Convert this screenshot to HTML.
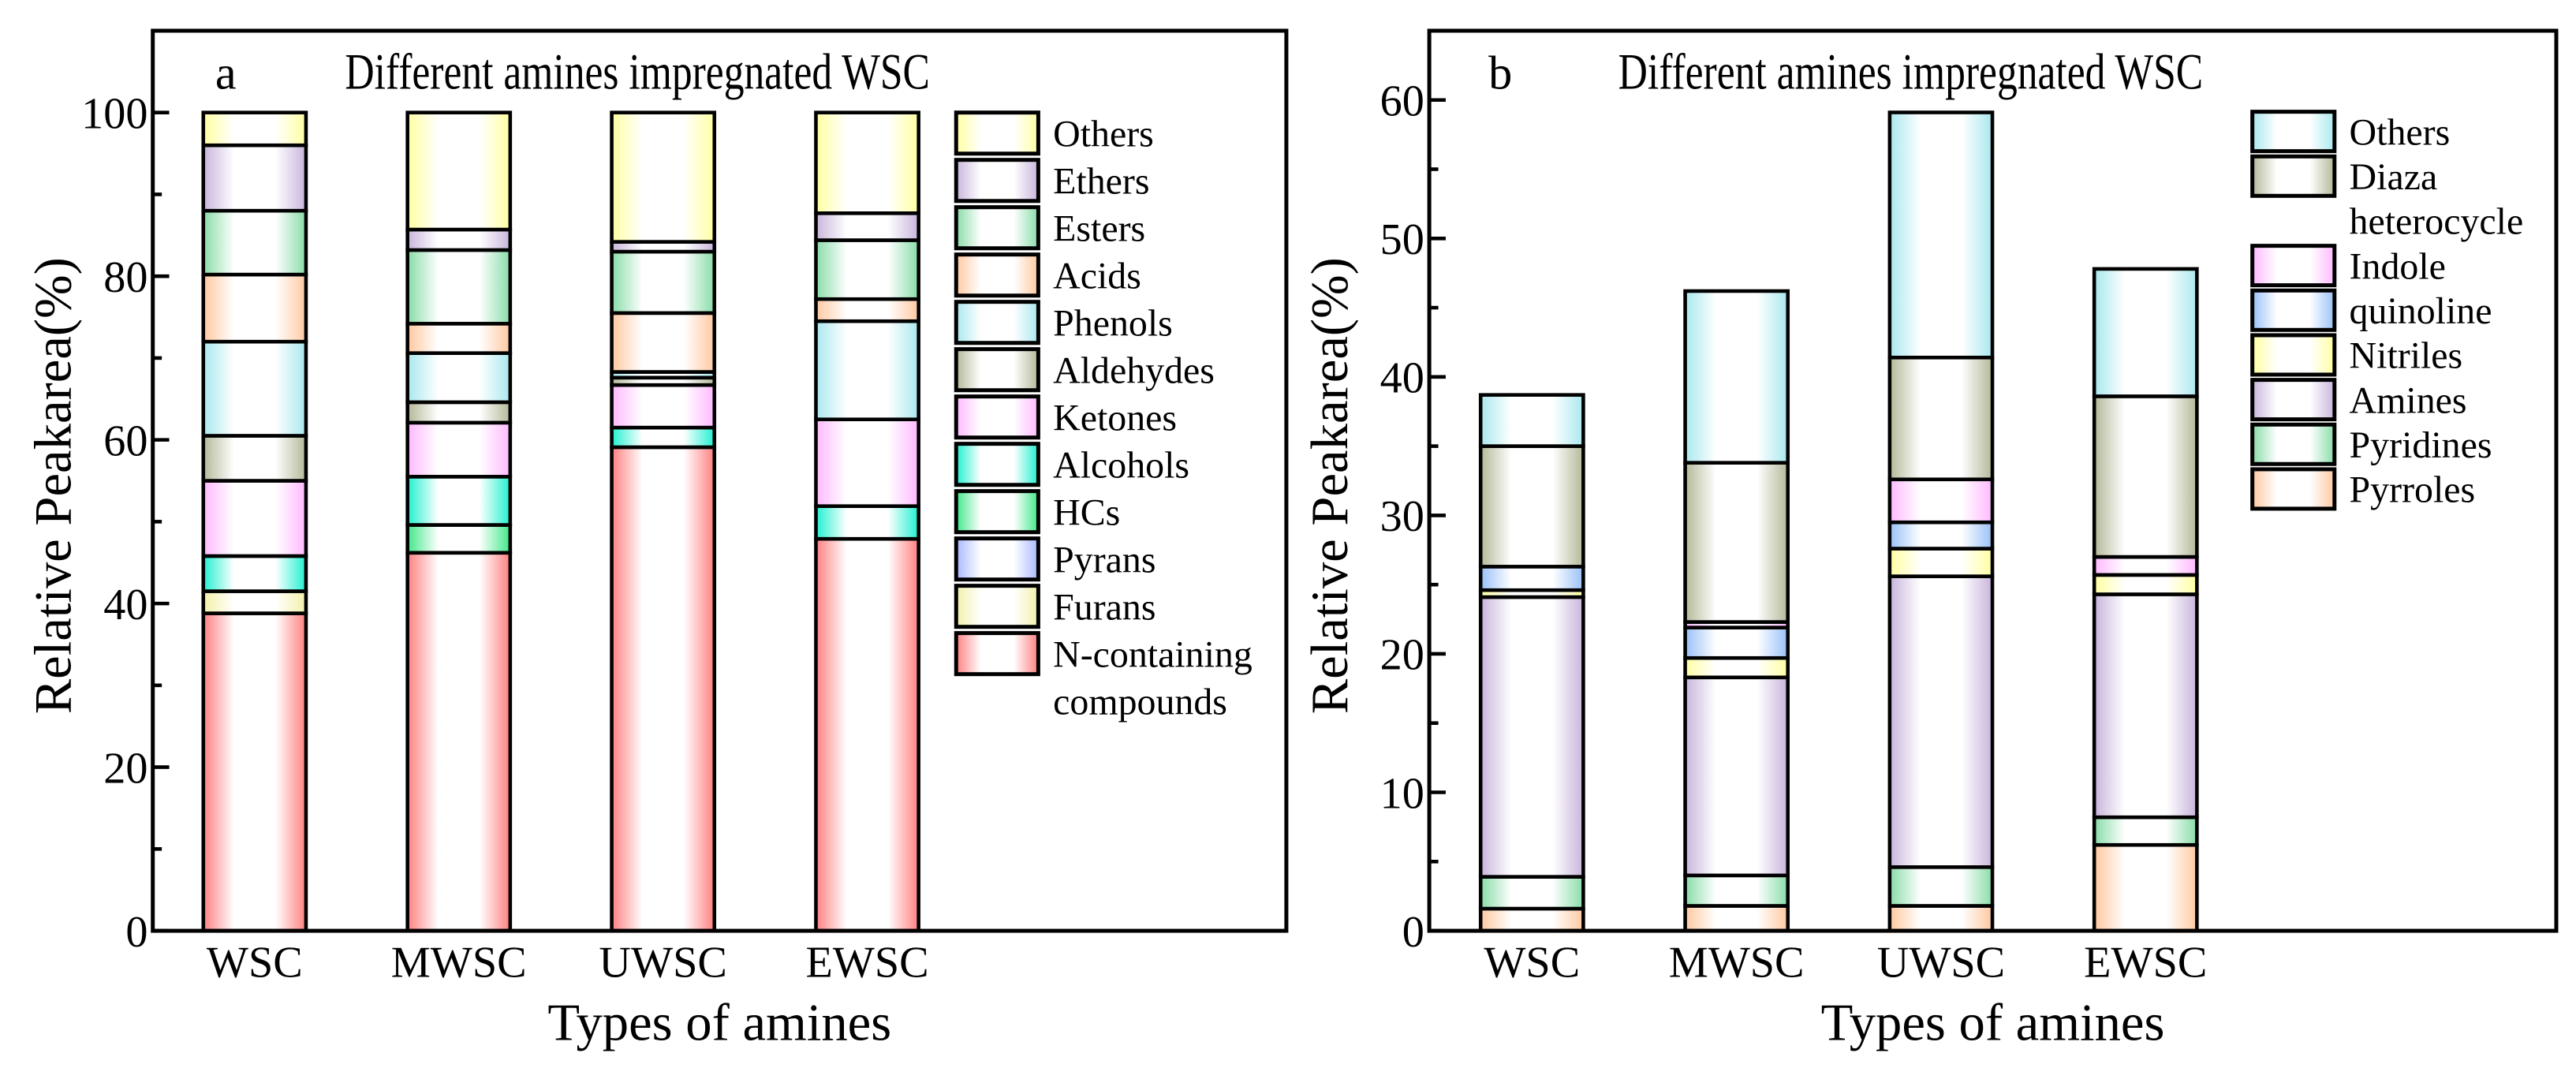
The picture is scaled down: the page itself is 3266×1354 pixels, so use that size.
<!DOCTYPE html>
<html><head><meta charset="utf-8"><style>html,body{margin:0;padding:0;background:#fff}svg{display:block}</style></head>
<body>
<svg id="svg" xmlns="http://www.w3.org/2000/svg" width="3266" height="1354" viewBox="0 0 1568 650" preserveAspectRatio="none" font-family="'Liberation Serif', serif">
<defs id="defs"></defs>
<g id="pa"></g>
<g id="pb"></g>
</svg>
<script>
const categories = ["WSC","MWSC","UWSC","EWSC"];
// panel a series (bottom to top)
const seriesA = ["N-containing compounds","Furans","Pyrans","HCs","Alcohols","Ketones","Aldehydes","Phenols","Acids","Esters","Ethers","Others"];
const nContaining = [38.8,46.2,59.1,47.9];
const furans      = [2.7,0,0,0];
const pyrans      = [0,0,0,0];
const hcs         = [0,3.4,0,0];
const alcohols    = [4.3,5.9,2.4,4.0];
const ketones     = [9.2,6.6,5.2,10.6];
const aldehydes   = [5.5,2.5,0.9,0];
const phenols     = [11.5,6.0,0.7,12.0];
const acids       = [8.2,3.6,7.2,2.7];
const esters      = [7.8,9.0,7.5,7.2];
const ethers      = [8.0,2.5,1.2,3.3];
const othersA     = [4.0,14.3,15.8,12.3];
const ticksA = [0,20,40,60,80,100];
// panel b series (bottom to top)
const seriesB = ["Pyrroles","Pyridines","Amines","Nitriles","quinoline","Indole","Diaza heterocycle","Others"];
const pyrroles  = [1.6,1.8,1.8,6.2];
const pyridines = [2.3,2.2,2.8,2.0];
const amines    = [20.2,14.3,21.0,16.1];
const nitriles  = [0.5,1.4,2.0,1.4];
const quinoline = [1.7,2.2,1.9,0];
const indole    = [0,0.4,3.1,1.3];
const diaza     = [8.7,11.5,8.8,11.6];
const othersB   = [3.7,12.4,17.7,9.2];
const ticksB = [0,10,20,30,40,50,60];

const NS="http://www.w3.org/2000/svg";
function mk(tag,attrs,parent){const e=document.createElementNS(NS,tag);for(const k in attrs)e.setAttribute(k,attrs[k]);parent.appendChild(e);return e;}
const defs=document.getElementById('defs');
let gid=0;
function grad(c){const id='g'+(gid++);const g=mk('linearGradient',{id:id,x1:0,y1:0,x2:1,y2:0},defs);
 [[0,c],[0.3,'#ffffff'],[0.7,'#ffffff'],[1,c]].forEach(s=>mk('stop',{offset:s[0],'stop-color':s[1]},g));return 'url(#'+id+')';}

function panel(g,cfg){
 const {L,R,T,B,ymax,ticks,minor,vals,names,colors,cx,bw,leg,letter,lx}=cfg;
 const y=v=>B-(v/ymax)*(B-T);
 const x=i=>cx[0]+i*(cx[1]);
 const fills=colors.map(grad);
 categories.forEach((c,i)=>{let acc=0;
  vals.forEach((arr,s)=>{const v=arr[i];if(v<=0)return;
   const r=mk('rect',{x:x(i)-bw/2,y:y(acc+v),width:bw,height:y(acc)-y(acc+v),fill:fills[s],stroke:'#000','stroke-width':2.2},g);
   
   
   acc+=v;});
  const t=mk('text',{x:x(i),y:B+28,'font-size':27,'text-anchor':'middle'},g);t.textContent=c;
  
  
 });
 const f=mk('rect',{x:L,y:T,width:R-L,height:B-T,fill:'none',stroke:'#000','stroke-width':2.4},g);
 
 
 ticks.forEach(v=>{mk('line',{x1:L,x2:L+10,y1:y(v),y2:y(v),stroke:'#000','stroke-width':2.2},g);
  const t=mk('text',{x:L-3,y:y(v)+9.5,'font-size':27,'text-anchor':'end'},g);t.textContent=v;
  
  });
 minor.forEach(v=>mk('line',{x1:L,x2:L+5.5,y1:y(v),y2:y(v),stroke:'#000','stroke-width':2.2},g));
 const yt=mk('text',{x:0,y:0,'font-size':32,'text-anchor':'middle',transform:`translate(${L-50},${(T+B)/2+3}) rotate(-90)`},g);yt.textContent='Relative Peakarea(%)';
 
 
 const xt=mk('text',{x:(L+R)/2,y:633,'font-size':32,'text-anchor':'middle'},g);xt.textContent='Types of amines';
 
 
 const lt=mk('text',{x:lx,y:54,'font-size':29},g);lt.textContent=letter;
 
 
 const tt=mk('text',{x:lx+79,y:54,'font-size':31,textLength:356,lengthAdjust:'spacingAndGlyphs'},g);tt.textContent='Different amines impregnated WSC';
 
 
 let row=0;
 for(let s=names.length-1;s>=0;s--){
  const ty=leg.y+row*leg.step;
  const r=mk('rect',{x:leg.x,y:ty,width:50,height:leg.h,fill:fills[s],stroke:'#000','stroke-width':2.4},g);
  
  
  const words=leg.wrap[names[s]]||[names[s]];
  words.forEach((w,k)=>{const t=mk('text',{x:leg.x+59,y:ty+leg.h/2+8+k*leg.step,'font-size':23},g);t.textContent=w;
   
   });
  row+=words.length;
 }
}
panel(document.getElementById('pa'),{L:93,R:783,T:18.7,B:566.5,ymax:110,ticks:ticksA,minor:[10,30,50,70,90],
 vals:[nContaining,furans,pyrans,hcs,alcohols,ketones,aldehydes,phenols,acids,esters,ethers,othersA],names:seriesA,
 colors:['#ff8080','#f2f0a8','#a8b8ff','#40e888','#20f0d0','#ffb8ff','#b4b898','#a8e8ee','#ffc8a0','#88dca8','#c8b4dc','#ffffa0'],
 cx:[155,124.3],bw:62.5,letter:'a',lx:131,
 leg:{x:582,y:68.5,step:28.8,h:25,wrap:{'N-containing compounds':['N-containing','compounds']}}});
panel(document.getElementById('pb'),{L:870,R:1556,T:18.7,B:566.5,ymax:65,ticks:ticksB,minor:[5,15,25,35,45,55],
 vals:[pyrroles,pyridines,amines,nitriles,quinoline,indole,diaza,othersB],names:seriesB,
 colors:['#ffc8a0','#88dca8','#c8b4dc','#ffffa0','#98c0f8','#ffb8ff','#b4b898','#a8e8ee'],
 cx:[932.5,124.5],bw:62.5,letter:'b',lx:906,
 leg:{x:1371,y:68,step:27.2,h:24,wrap:{'Diaza heterocycle':['Diaza','heterocycle']}}});
</script>
</body></html>
